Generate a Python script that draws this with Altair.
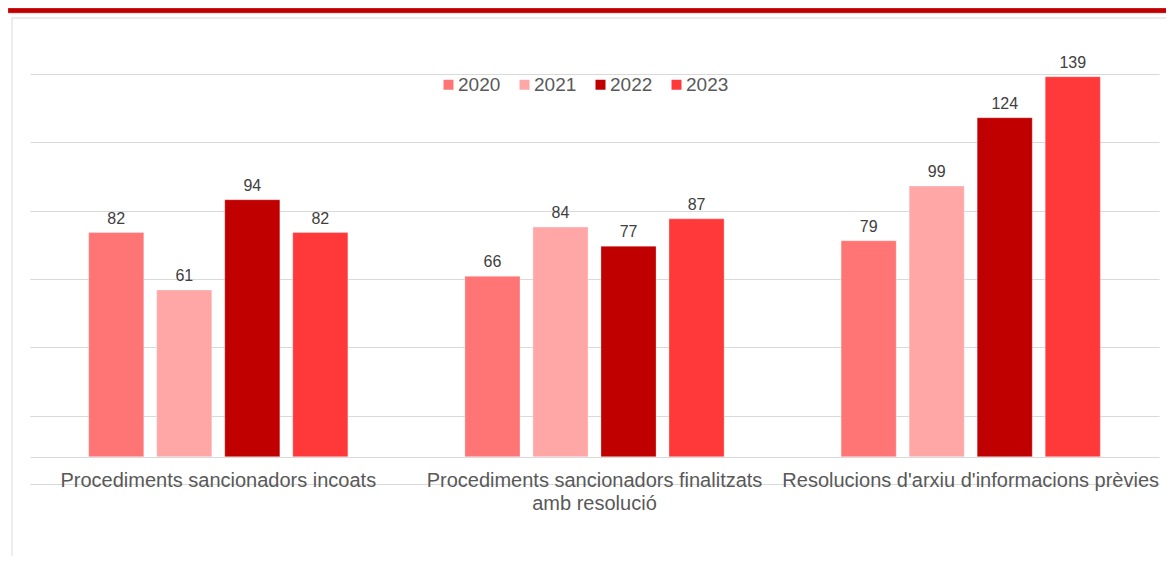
import altair as alt
import pandas as pd

categories = [
    "Procediments sancionadors incoats",
    "Procediments sancionadors finalitzats\namb resolució",
    "Resolucions d'arxiu d'informacions prèvies",
]
years = ["2020", "2021", "2022", "2023"]
v2020 = [82, 66, 79]
v2021 = [61, 84, 99]
v2022 = [94, 77, 124]
v2023 = [82, 87, 139]
colors = ["#FF7575", "#FFA7A7", "#C00000", "#FF3939"]
grid_values = [-10, 0, 15, 40, 65, 90, 115, 140]

series = {"2020": v2020, "2021": v2021, "2022": v2022, "2023": v2023}
rows = []
for y in years:
    for c, v in zip(categories, series[y]):
        rows.append({"cat": c, "year": y, "value": v})
df = pd.DataFrame(rows)
cat_df = pd.DataFrame({"cat": categories})
one = pd.DataFrame({"a": [0]})

W, H = 1129, 410
FONT = "Liberation Sans"

x = alt.X("cat:N", sort=categories, axis=None,
          scale=alt.Scale(paddingInner=0.311, paddingOuter=0.156))
xo = alt.XOffset("year:N", sort=years,
                 scale=alt.Scale(paddingInner=0.19, paddingOuter=0))
yenc = alt.Y("value:Q",
             scale=alt.Scale(domain=[-10, 140], nice=False, zero=False),
             axis=alt.Axis(values=grid_values, labels=False, ticks=False,
                           domain=False, grid=True, gridColor="#d9d9d9",
                           gridWidth=1, title=None))

border = alt.Chart(one).mark_rect(fillOpacity=0, stroke="#d9d9d9", strokeWidth=1).encode(
    x=alt.value(-18), x2=alt.value(1145), y=alt.value(-56), y2=alt.value(H + 80)
)
topbar = alt.Chart(one).mark_rect(fill="#C00000", stroke="#E07070", strokeWidth=0.5).encode(
    x=alt.value(-22), x2=alt.value(1140), y=alt.value(-66), y2=alt.value(-61)
)

bars = alt.Chart(df).mark_bar(stroke="white", strokeWidth=0.6, strokeOpacity=0.5).encode(
    x=x, xOffset=xo, y=yenc, y2=alt.datum(0),
    color=alt.Color("year:N", sort=years,
                    scale=alt.Scale(domain=years, range=colors),
                    legend=alt.Legend(title=None, orient="none", direction="horizontal",
                                      legendX=409, legendY=1, symbolType="square",
                                      symbolSize=100, symbolStrokeWidth=0,
                                      labelFontSize=19, labelFont=FONT,
                                      labelColor="#595959", labelOffset=0,
                                      columnPadding=14, padding=0)),
)

labels = alt.Chart(df).mark_text(font=FONT, fontSize=16, color="#404040",
                                 baseline="alphabetic", dy=-9).encode(
    x=x, xOffset=xo, y=alt.Y("value:Q"), text=alt.Text("value:Q")
)

catlabels = alt.Chart(cat_df).mark_text(font=FONT, fontSize=20, color="#595959",
                                        baseline="top", lineBreak="\n",
                                        lineHeight=23).encode(
    x=x, y=alt.value(397), text="cat:N"
)

chart = alt.layer(border, topbar, bars, labels, catlabels).properties(
    width=W, height=H,
    autosize=alt.AutoSizeParams(type="none"),
    padding={"left": 22, "top": 66, "right": 7, "bottom": 72},
).configure_view(stroke=None)

chart.save("out.html", embed_options={"renderer": "svg", "actions": False})
